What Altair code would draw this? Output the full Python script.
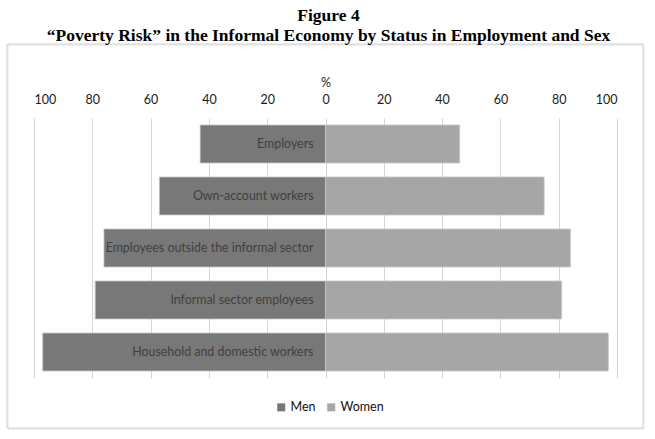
import altair as alt
import pandas as pd

categories = [
    "Employers",
    "Own-account workers",
    "Employees outside the informal sector",
    "Informal sector employees",
    "Household and domestic workers",
]
men = [43, 57, 76, 79, 97]
women = [46, 75, 84, 81, 97]
tick_values = [-100, -80, -60, -40, -20, 0, 20, 40, 60, 80, 100]
sexes = ["Men", "Women"]
colors = ["#787878", "#a6a6a6"]

rows = []
for c, m, w in zip(categories, men, women):
    rows.append({"category": c, "sex": "Men", "value": -m})
    rows.append({"category": c, "sex": "Women", "value": w})
df = pd.DataFrame(rows)
lab = pd.DataFrame({"category": categories})

FONT = "Lato"

yscale = alt.Y(
    "category:N",
    sort=categories,
    scale=alt.Scale(paddingInner=0.27, paddingOuter=0.135),
    axis=None,
)

frame_df = pd.DataFrame({"a": [0]})
shadow = alt.Chart(frame_df).mark_rect(filled=False, stroke="#e4e4e4", strokeWidth=1).encode(
    x=alt.value(-26), x2=alt.value(610), y=alt.value(-73), y2=alt.value(311)
)
frame = alt.Chart(frame_df).mark_rect(filled=False, stroke="#d0d0d0", strokeWidth=1).encode(
    x=alt.value(-27), x2=alt.value(609), y=alt.value(-74), y2=alt.value(310)
)

bars = alt.Chart(df).mark_bar(stroke="#c4c4c4", strokeWidth=0.8).encode(
    x=alt.X(
        "value:Q",
        stack=None,
        scale=alt.Scale(domain=[-100, 100], nice=False, zero=False),
        axis=alt.Axis(
            orient="top",
            values=tick_values,
            labelExpr="'' + abs(datum.value)",
            title="%",
            titleFont=FONT,
            titleFontSize=12.5,
            titleFontWeight="normal",
            titleColor="#1a1a1a",
            titlePadding=4,
            labelFont=FONT,
            labelFontSize=12.5,
            labelColor="#1a1a1a",
            labelPadding=12,
            ticks=False,
            domain=False,
            grid=True,
            gridColor="#d4d4d4",
            gridWidth=1,
        ),
    ),
    y=yscale,
    color=alt.Color(
        "sex:N",
        scale=alt.Scale(domain=sexes, range=colors),
        legend=alt.Legend(
            title=None,
            orient="none",
            direction="horizontal",
            legendX=241,
            legendY=283,
            symbolType="square",
            symbolSize=64,
            symbolStrokeWidth=0,
            labelFont=FONT,
            labelFontSize=12.5,
            labelColor="#111111",
            labelOffset=3,
            columnPadding=9,
            padding=0,
        ),
    ),
)

labels = alt.Chart(lab).mark_text(
    align="right", baseline="middle", dx=-12, font=FONT, fontSize=12.4, color="#404040"
).encode(
    x=alt.datum(0),
    y=yscale,
    text="category:N",
)

chart = alt.layer(shadow, frame, bars, labels).properties(
    width=583,
    height=260,
    title=alt.TitleParams(
        text=["Figure 4", "\u201cPoverty Risk\u201d in the Informal Economy by Status in Employment and Sex"],
        font="Liberation Serif",
        fontSize=17.5,
        fontWeight="bold",
        color="black",
        anchor="middle",
        lineHeight=20,
        offset=-1,
        dx=3,
    ),
    autosize=alt.AutoSizeParams(type="none"),
    padding={"left": 34, "top": 118, "right": 38, "bottom": 61},
).configure_view(strokeWidth=0)

chart.save("out.html", embed_options={"renderer": "svg", "actions": False})
